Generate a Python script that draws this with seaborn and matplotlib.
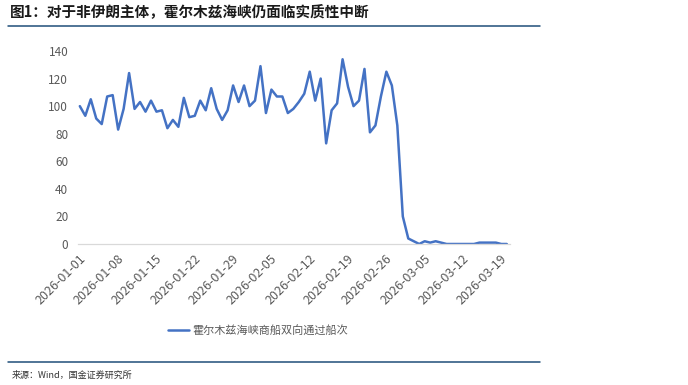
import pandas as pd
import seaborn as sns
import matplotlib.pyplot as plt
import matplotlib.dates as mdates
import matplotlib.transforms as mtransforms
from matplotlib.lines import Line2D

# data: daily two-way transits, 2026-01-01 .. 2026-03-20
dates = pd.date_range("2026-01-01", "2026-03-20", freq="D")
ships = [100, 93, 105, 91, 87, 107, 108, 83, 98, 124, 98, 103, 96, 104, 96, 97,
         84, 90, 85, 106, 92, 93,
         104, 97, 113, 98, 90, 97, 115, 103, 115, 100, 104, 129, 95, 112, 107,
         107, 95, 98, 103, 109, 125, 104, 120, 73, 97, 102, 134, 114, 100, 104,
         127, 81, 86, 107, 125, 115, 86,
         20, 4, 2, 0, 2, 1, 2, 1, 0, 0, 0, 0, 0, 0, 1, 1, 1, 1, 0, 0]
series_name = "霍尔木兹海峡商船双向通过船次"
title = "图1：对于非伊朗主体，霍尔木兹海峡仍面临实质性中断"
source = "来源：Wind，国金证券研究所"
yticks = [0, 20, 40, 60, 80, 100, 120, 140]

df = pd.DataFrame({"date": dates, "ships": ships})

sns.set_theme(style="white")
plt.rcParams['font.family'] = ['Noto Sans CJK SC', 'DejaVu Sans']

W, H = 688, 385
fig = plt.figure(figsize=(W / 100, H / 100), dpi=100)
ax = fig.add_axes([78 / W, 1 - 244 / H, (510 - 78) / W, (244 - 51) / H])

sns.lineplot(data=df, x="date", y="ships", ax=ax, color="#4472C4",
             linewidth=1.8, label=series_name)

ax.set_ylim(0, 140)
ax.set_yticks(yticks)
ax.set_xlim(dates[0] - pd.Timedelta(hours=8), dates[-1] + pd.Timedelta(hours=14))
ax.set_xticks(pd.date_range(dates[0], dates[-1], freq="7D"))
ax.xaxis.set_major_formatter(mdates.DateFormatter("%Y-%m-%d"))
ax.set_xlabel("")
ax.set_ylabel("")

for s in ["left", "top", "right"]:
    ax.spines[s].set_visible(False)
ax.spines["bottom"].set_color("#D9D9D9")
ax.spines["bottom"].set_linewidth(0.9)
ax.tick_params(axis="x", direction="out", length=4, color="#D9D9D9",
               labelsize=9, labelcolor="#595959", pad=2)
ax.tick_params(axis="y", length=0, labelsize=8.5, labelcolor="#595959", pad=7)

shift = mtransforms.ScaledTranslation(6 / 72, 0, fig.dpi_scale_trans)
for lbl in ax.get_xticklabels():
    lbl.set_rotation(45)
    lbl.set_ha("right")
    lbl.set_transform(lbl.get_transform() + shift)

ax.legend(loc="center", bbox_to_anchor=(258 / W, 1 - 330 / H),
          bbox_transform=fig.transFigure, frameon=False, fontsize=8,
          handlelength=1.9, handletextpad=0.3, labelcolor="#595959")

fig.text(10 / W, 1 - 12 / H, title, fontsize=10.5, weight="bold",
         va="center", ha="left", color="#1a1a1a")
fig.add_artist(Line2D([8 / W, 540 / W], [1 - 26 / H] * 2, color="#1F4E79", lw=1.1))
fig.add_artist(Line2D([8 / W, 540 / W], [1 - 362 / H] * 2, color="#1F4E79", lw=1.1))
fig.text(12 / W, 1 - 375 / H, source, fontsize=6.5, va="center", ha="left",
         color="#333333")

fig.savefig("out.png", dpi=100)
